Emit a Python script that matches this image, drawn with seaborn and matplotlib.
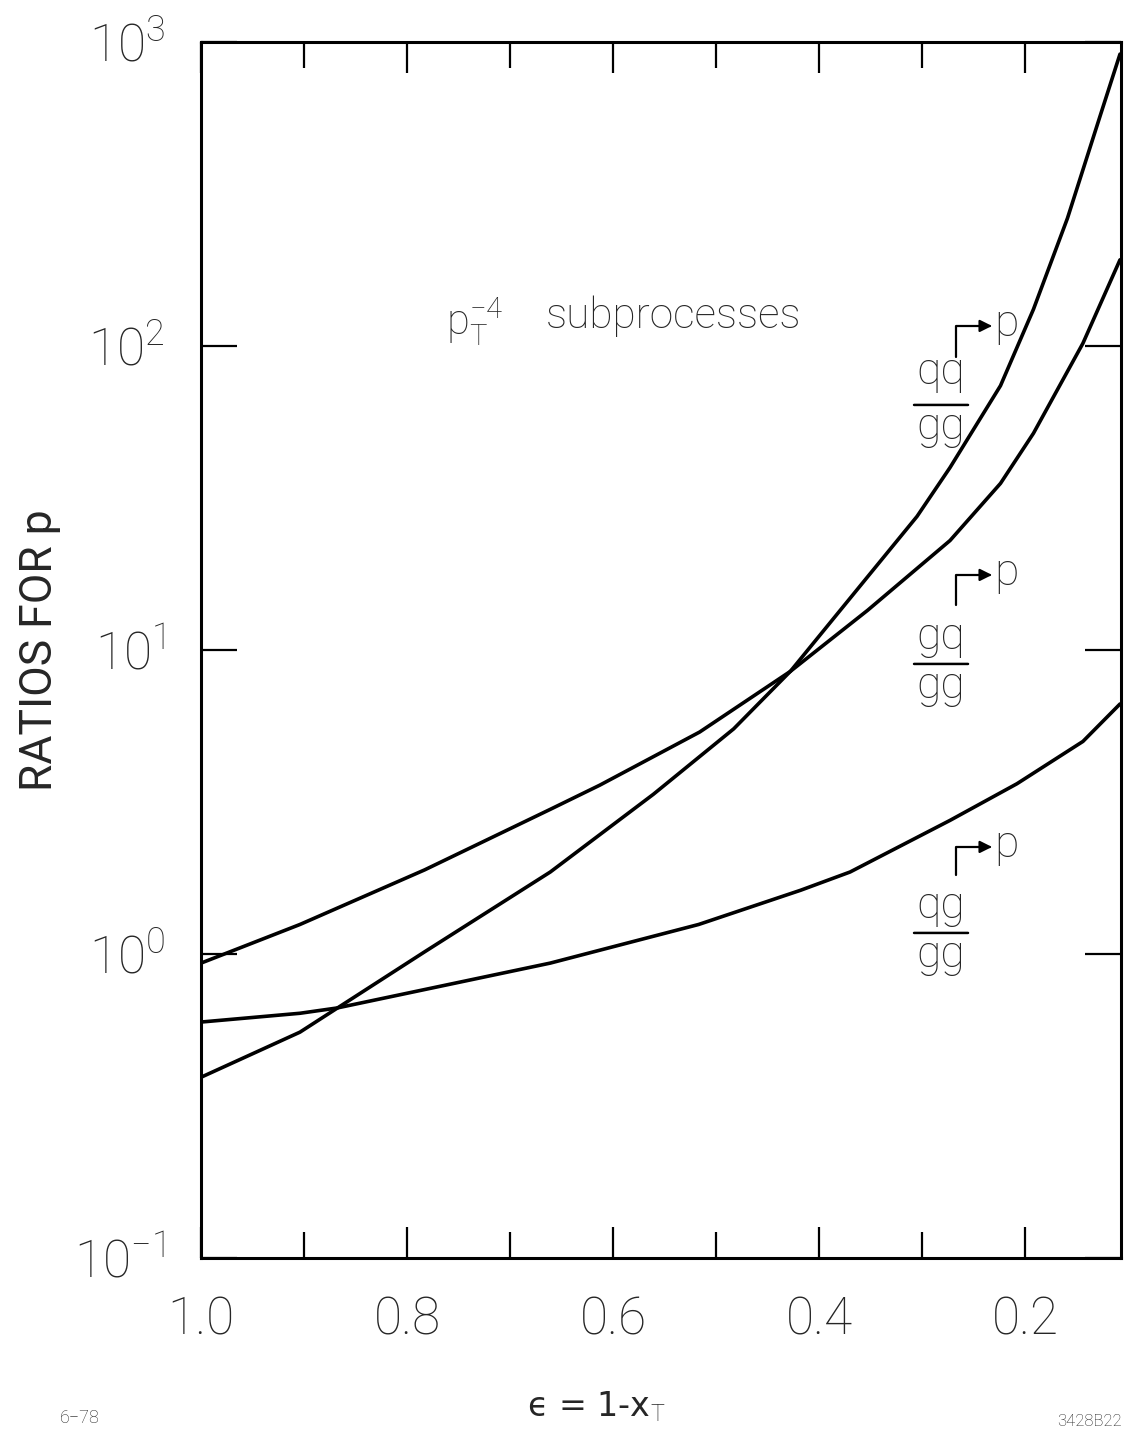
import matplotlib
matplotlib.use("Agg")
import matplotlib.pyplot as plt
import seaborn as sns
from matplotlib.ticker import FixedLocator, FixedFormatter, NullLocator

# Data (epsilon = 1 - x_T), one x list per curve
eps_qq = [1.0, 0.904, 0.783, 0.661, 0.561, 0.483, 0.428, 0.353, 0.305, 0.273,
          0.224, 0.192, 0.159, 0.127, 0.108]
qq_gg = [0.393, 0.553, 1.016, 1.86, 3.35, 5.5, 8.5, 17.4, 27.5, 39.8,
         74, 132, 263, 575, 912]

eps_gq = [1.0, 0.904, 0.783, 0.661, 0.613, 0.516, 0.428, 0.353, 0.273, 0.224,
          0.192, 0.144, 0.108]
gq_gg = [0.933, 1.25, 1.89, 2.99, 3.59, 5.37, 8.5, 13.5, 22.9, 35.3,
         51.6, 102, 192]

eps_qg = [1.0, 0.904, 0.868, 0.661, 0.517, 0.418, 0.370, 0.273, 0.208, 0.144, 0.108]
qg_gg = [0.597, 0.638, 0.664, 0.933, 1.25, 1.62, 1.86, 2.75, 3.63, 5.0, 6.64]

x_major = [1.0, 0.8, 0.6, 0.4, 0.2]
x_minor = [0.9, 0.7, 0.5, 0.3]
x_labels = ["1.0", "0.8", "0.6", "0.4", "0.2"]
y_major = [0.1, 1, 10, 100, 1000]
y_labels = [r"$10^{-1}$", r"$10^{0}$", r"$10^{1}$", r"$10^{2}$", r"$10^{3}$"]

sns.set_style("white")
plt.rcParams["font.family"] = ["Roboto", "DejaVu Sans"]
plt.rcParams["font.weight"] = "light"
plt.rcParams["mathtext.fontset"] = "custom"
plt.rcParams["mathtext.rm"] = "Roboto:light"
plt.rcParams["mathtext.it"] = "Roboto:light"
plt.rcParams["mathtext.fallback"] = "cm"

fig = plt.figure(figsize=(11.27, 14.36), dpi=100)
ax = fig.add_axes([0.1784, 0.124, 0.8163, 0.8468])

# Draw curves
for xs, ys in [(eps_qq, qq_gg), (eps_gq, gq_gg), (eps_qg, qg_gg)]:
    sns.lineplot(x=xs, y=ys, ax=ax, color="black", linewidth=2.6)

ax.set_yscale("log")
ax.set_ylim(0.1, 1000)
ax.set_xlim(1.0, 0.107)

# Axes frame and ticks
for sp in ax.spines.values():
    sp.set_linewidth(2.2)
    sp.set_color("black")

ax.xaxis.set_major_locator(FixedLocator(x_major))
ax.xaxis.set_major_formatter(FixedFormatter(x_labels))
ax.xaxis.set_minor_locator(FixedLocator(x_minor))
ax.yaxis.set_major_locator(FixedLocator(y_major))
ax.yaxis.set_major_formatter(FixedFormatter(y_labels))
ax.yaxis.set_minor_locator(NullLocator())

ax.tick_params(axis="x", which="both", direction="in", top=True, bottom=True,
               width=1.6, color="black")
ax.tick_params(axis="x", which="major", length=22, labelsize=37, pad=27)
ax.tick_params(axis="x", which="minor", length=19)
ax.tick_params(axis="y", which="major", direction="in", left=True, right=True,
               length=26, width=1.6, color="black", labelsize=37, pad=26)

ax.set_ylabel("RATIOS FOR p", fontsize=32)
ax.yaxis.set_label_coords(-0.152, 0.5)
ax.set_xlabel("\u03f5 = 1-x$_{\\mathrm{T}}$", fontsize=24,
              family=["DejaVu Sans"], fontweight="normal")
ax.xaxis.set_label_coords(0.43, -0.108)


def px(x, y):
    # image pixel position -> axes fraction
    return ((x - 201) / 920, (1258 - y) / 1216)


ax.text(*px(446, 322), r"$\mathrm{p}_{\mathrm{T}}^{-4}$", transform=ax.transAxes,
        fontsize=30, ha="left", va="center")
ax.text(*px(546, 316), "subprocesses", transform=ax.transAxes,
        fontsize=30.5, ha="left", va="center")

# Curve labels: fraction with a bracket arrow to p
curve_labels = [("qq", "gg", 372, 405, 326, 357), ("gq", "gg", 637, 664, 575, 605),
                ("qg", "gg", 906, 933, 847, 875)]
for num, den, ynum, yline, yarrow, ystart in curve_labels:
    ax.text(*px(941, ynum), num, transform=ax.transAxes, fontsize=32,
            ha="center", va="center")
    ax.text(*px(941, yline + 22), den, transform=ax.transAxes, fontsize=32,
            ha="center", va="center")
    ax.annotate("", xy=px(914, yline), xytext=px(968, yline),
                xycoords="axes fraction", textcoords="axes fraction",
                arrowprops=dict(arrowstyle="-", color="black", lw=1.8,
                                shrinkA=0, shrinkB=0))
    ax.annotate("", xy=px(992, yarrow), xytext=px(956, ystart),
                xycoords="axes fraction", textcoords="axes fraction",
                arrowprops=dict(arrowstyle="-|>", color="black", lw=1.6,
                                connectionstyle="angle,angleA=90,angleB=0,rad=0",
                                shrinkA=0, shrinkB=0, mutation_scale=18))
    ax.text(*px(994, yarrow - 2), "p", transform=ax.transAxes, fontsize=32,
            ha="left", va="center")

fig.text(60 / 1127, 1 - 1418 / 1436, "6\u221278", fontsize=13, ha="left", va="center")
fig.text(1122 / 1127, 1 - 1422 / 1436, "3428B22", fontsize=12, ha="right", va="center")

fig.savefig("out.png", dpi=100)
